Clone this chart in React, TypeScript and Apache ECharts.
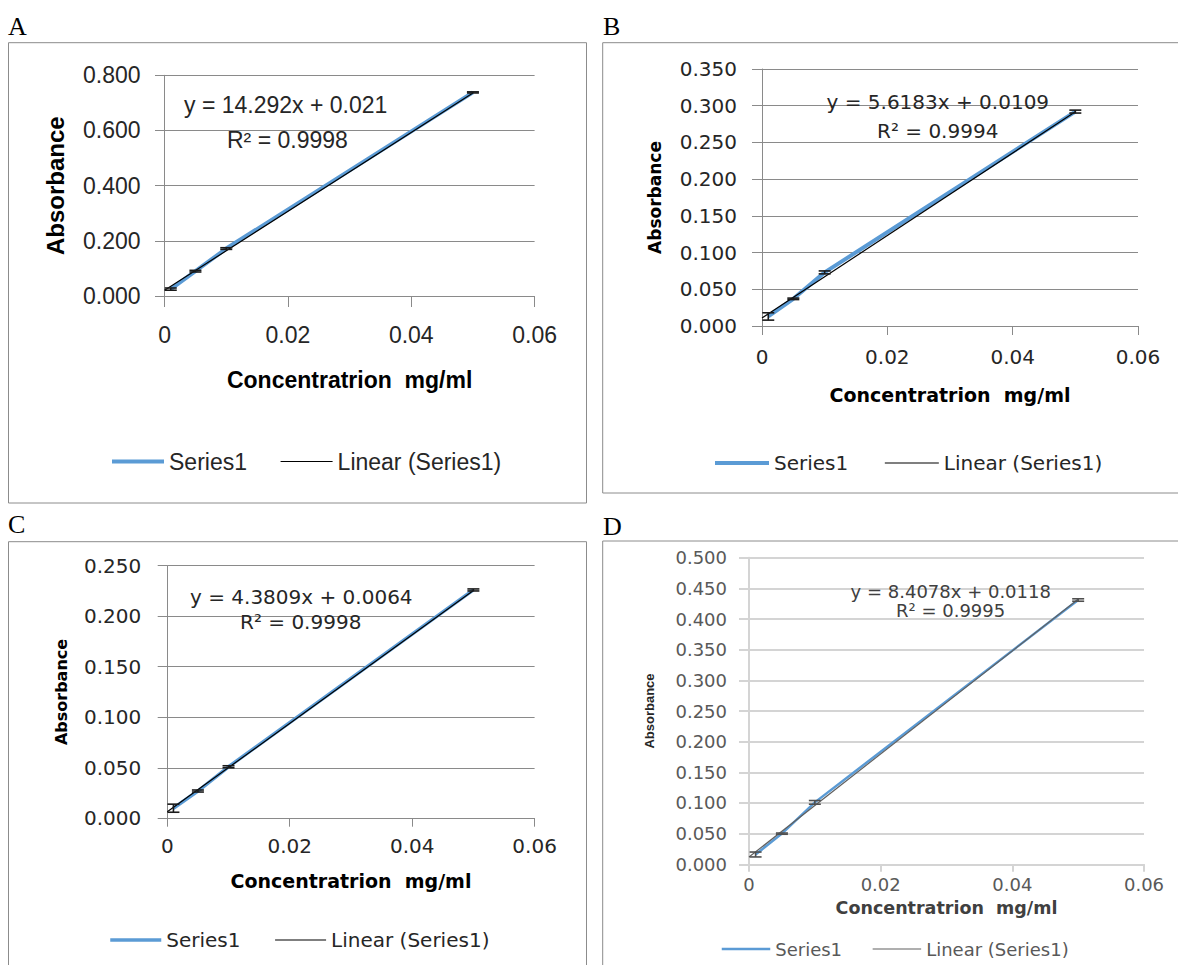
import React, { useEffect, useRef } from "react";
import * as echarts from "echarts";

// ---------- data ----------
const conc = [0.001, 0.005, 0.01, 0.05];

const absA = [0.025, 0.09, 0.172, 0.738];
const errA = [0.004, 0.003, 0.003, 0.002];
const absB = [0.013, 0.037, 0.073, 0.292];
const errB = [0.005, 0.001, 0.002, 0.002];
const absC = [0.01, 0.027, 0.051, 0.226];
const errC = [0.004, 0.001, 0.001, 0.001];
const absD = [0.016, 0.05, 0.101, 0.431];
const errD = [0.004, 0.001, 0.003, 0.002];

const trendX = [0, 0.05];
const trendA = [0.021, 0.736];
const trendB = [0.0109, 0.2918];
const trendC = [0.0064, 0.2254];
const trendD = [0.0118, 0.4322];

const eqA = ["y = 14.292x + 0.021", "R² = 0.9998"];
const eqB = ["y = 5.6183x + 0.0109", "R² = 0.9994"];
const eqC = ["y = 4.3809x + 0.0064", "R² = 0.9998"];
const eqD = ["y = 8.4078x + 0.0118", "R² = 0.9995"];

const yMax = [0.8, 0.35, 0.25, 0.5];
const yInterval = [0.2, 0.05, 0.05, 0.05];
const xMax = 0.06;
const xInterval = 0.02;

const letters = ["A", "B", "C", "D"];
const seriesName = "Series1";
const trendName = "Linear (Series1)";
const xTitle = "Concentratrion  mg/ml";
const yTitle = "Absorbance";

// ---------- layout / style (kept apart from data) ----------
const panels = [
  {
    abs: absA, err: errA, trend: trendA, eq: eqA,
    grid: { left: 164.6, top: 75.3, width: 370, height: 220.7 },
    font: "Liberation Sans", tickSize: 23, titleSize: 23, yTitleSize: 24,
    yLabelMargin: 24, xLabelMargin: 27, yTick: 9.6, xTick: 11,
    xNameGap: 72, yNameGap: 97,
    gridColor: "#8a8a8a", gridWidth: 1, textColor: "#262626",
    blueWidth: 4, trendColor: "#000000",
    eqPos: [[184, 105], [227, 140]], eqSize: 23,
    legend: { left: 110, y: 460, w1: 52, gap: 33, size: 23 },
    frame: [8.5, 42.7, 578, 460.3],
    letter: [8, 26],
  },
  {
    abs: absB, err: errB, trend: trendB, eq: eqB,
    grid: { left: 762, top: 69, width: 376, height: 257 },
    font: "DejaVu Sans", tickSize: 20, titleSize: 19, yTitleSize: 17,
    yLabelMargin: 25, xLabelMargin: 21, yTick: 10, xTick: 9,
    xNameGap: 59, yNameGap: 99,
    gridColor: "#8a8a8a", gridWidth: 1, textColor: "#262626",
    blueWidth: 4, trendColor: "#000000",
    eqPos: [[826.5, 102], [877, 131]], eqSize: 20,
    legend: { left: 713, y: 463, w1: 54, gap: 36, size: 20 },
    frame: [602.7, 42.7, 580, 450.3],
    letter: [603, 26],
  },
  {
    abs: absC, err: errC, trend: trendC, eq: eqC,
    grid: { left: 167.3, top: 565.7, width: 367.3, height: 252.6 },
    font: "DejaVu Sans", tickSize: 20, titleSize: 19, yTitleSize: 16,
    yLabelMargin: 26, xLabelMargin: 18, yTick: 9.6, xTick: 8.4,
    xNameGap: 53, yNameGap: 98,
    gridColor: "#8a8a8a", gridWidth: 1, textColor: "#262626",
    blueWidth: 3.5, trendColor: "#000000",
    eqPos: [[190, 596.7], [240, 622]], eqSize: 20,
    legend: { left: 108.5, y: 940, w1: 51, gap: 34, size: 20 },
    frame: [8.5, 541.7, 578, 440],
    letter: [8, 524],
  },
  {
    abs: absD, err: errD, trend: trendD, eq: eqD,
    grid: { left: 749, top: 557.7, width: 395, height: 306.6 },
    font: "DejaVu Sans", tickSize: 18, titleSize: 17.5, yTitleSize: 13,
    yTitleFont: "Liberation Sans",
    yLabelMargin: 22, xLabelMargin: 11, yTick: 10, xTick: 7.4,
    xNameGap: 35, yNameGap: 93.5,
    gridColor: "#d4d4d4", gridWidth: 2, textColor: "#595959",
    blueWidth: 2.5, trendColor: "#606060",
    eqPos: [[850.6, 591], [896, 610]], eqSize: 18,
    legend: { left: 720.5, y: 950, w1: 48.5, gap: 30, size: 18 },
    frame: [602.7, 541, 580, 440],
    letter: [603, 526],
  },
];

const BLUE = "#5B9BD5";

function buildOption() {
  const grid: any[] = [];
  const xAxis: any[] = [];
  const yAxis: any[] = [];
  const series: any[] = [];
  const legend: any[] = [];
  const graphic: any[] = [];

  panels.forEach((p, i) => {
    grid.push({ ...p.grid, containLabel: false });
    xAxis.push({
      type: "value",
      gridIndex: i,
      min: 0,
      max: xMax,
      interval: xInterval,
      axisLine: { show: true, onZero: false, lineStyle: { color: p.gridColor, width: p.gridWidth } },
      axisTick: { show: true, length: p.xTick, lineStyle: { color: p.gridColor, width: p.gridWidth } },
      splitLine: { show: false },
      axisLabel: {
        margin: p.xLabelMargin,
        fontSize: p.tickSize,
        fontFamily: p.font,
        color: p.textColor,
        formatter: (v: number) => (v === 0 ? "0" : String(parseFloat(v.toFixed(2)))),
      },
      name: xTitle,
      nameLocation: "middle",
      nameGap: p.xNameGap,
      nameTextStyle: {
        fontSize: p.titleSize,
        fontFamily: p.font,
        fontWeight: "bold",
        color: i === 3 ? "#404040" : "#000000",
      },
    });
    yAxis.push({
      type: "value",
      gridIndex: i,
      min: 0,
      max: yMax[i],
      interval: yInterval[i],
      axisLine: { show: true, lineStyle: { color: p.gridColor, width: p.gridWidth } },
      axisTick: { show: true, length: p.yTick, lineStyle: { color: p.gridColor, width: p.gridWidth } },
      splitLine: { show: true, lineStyle: { color: p.gridColor, width: p.gridWidth } },
      axisLabel: {
        margin: p.yLabelMargin,
        fontSize: p.tickSize,
        fontFamily: p.font,
        color: p.textColor,
        formatter: (v: number) => v.toFixed(3),
      },
      name: yTitle,
      nameLocation: "middle",
      nameRotate: 90,
      nameGap: p.yNameGap,
      nameTextStyle: {
        fontSize: p.yTitleSize,
        fontFamily: (p as any).yTitleFont || p.font,
        fontWeight: "bold",
        color: i === 3 ? "#262626" : "#000000",
      },
    });

    series.push({
      name: seriesName,
      type: "line",
      xAxisIndex: i,
      yAxisIndex: i,
      data: conc.map((c, k) => [c, p.abs[k]]),
      symbol: "none",
      lineStyle: { color: BLUE, width: p.blueWidth },
      itemStyle: { color: BLUE },
      z: 3,
    });
    series.push({
      name: trendName,
      type: "line",
      xAxisIndex: i,
      yAxisIndex: i,
      data: trendX.map((c, k) => [c, p.trend[k]]),
      symbol: "none",
      lineStyle: { color: p.trendColor, width: 1.2 },
      itemStyle: { color: p.trendColor },
      z: 4,
    });
    series.push({
      name: "Error " + letters[i],
      type: "custom",
      xAxisIndex: i,
      yAxisIndex: i,
      data: conc.map((c, k) => [c, p.abs[k], p.err[k]]),
      encode: { x: 0, y: 1 },
      z: 5,
      renderItem: (params: any, api: any) => {
        const x = api.value(0);
        const y = api.value(1);
        const e = api.value(2);
        const t = api.coord([x, y + e]);
        const b = api.coord([x, y - e]);
        const hw = 6;
        const st = { stroke: p.trendColor === "#000000" ? "#1a1a1a" : "#505050", lineWidth: 1.6 };
        return {
          type: "group",
          children: [
            { type: "line", shape: { x1: t[0], y1: t[1], x2: b[0], y2: b[1] }, style: st },
            { type: "line", shape: { x1: t[0] - hw, y1: t[1], x2: t[0] + hw, y2: t[1] }, style: st },
            { type: "line", shape: { x1: b[0] - hw, y1: b[1], x2: b[0] + hw, y2: b[1] }, style: st },
          ],
        };
      },
    });

    legend.push({
      show: true,
      left: p.legend.left,
      top: p.legend.y - 10,
      padding: 0,
      orient: "horizontal",
      itemWidth: p.legend.w1,
      itemHeight: 14,
      itemGap: p.legend.gap,
      selectedMode: false,
      textStyle: { fontSize: p.legend.size, fontFamily: p.font, color: p.textColor },
      data: [
        {
          name: seriesName,
          itemStyle: { color: "transparent", borderColor: "transparent", borderWidth: 0 },
          lineStyle: { color: BLUE, width: p.blueWidth },
        },
        {
          name: trendName,
          itemStyle: { color: "transparent", borderColor: "transparent", borderWidth: 0 },
          lineStyle: { color: p.trendColor, width: 1.2 },
        },
      ],
    });

    p.eq.forEach((s, k) => {
      graphic.push({
        type: "text",
        x: p.eqPos[k][0],
        y: p.eqPos[k][1],
        z: 10,
        style: {
          text: s,
          fontSize: p.eqSize,
          fontFamily: p.font,
          fill: i === 3 ? "#404040" : "#262626",
          textAlign: "left",
          textVerticalAlign: "middle",
          align: "left",
          verticalAlign: "middle",
        },
      });
    });

    const [fx, fy, fw, fh] = p.frame;
    graphic.push({
      type: "rect",
      shape: { x: fx, y: fy, width: fw, height: fh },
      style: { fill: "none", stroke: "#8c8c8c", lineWidth: 1 },
      z: 0,
      silent: true,
    });
    graphic.push({
      type: "text",
      x: p.letter[0],
      y: p.letter[1],
      style: {
        text: letters[i],
        fontSize: 26,
        fontFamily: "Liberation Serif",
        fill: "#000000",
        textAlign: "left",
        textVerticalAlign: "middle",
        align: "left",
        verticalAlign: "middle",
      },
    });
  });

  return {
    animation: false,
    backgroundColor: "#ffffff",
    grid,
    xAxis,
    yAxis,
    series,
    legend,
    graphic,
  };
}

export default function App() {
  const ref = useRef<HTMLDivElement>(null);
  useEffect(() => {
    if (!ref.current) return;
    const chart = echarts.init(ref.current, undefined, { renderer: "svg" });
    chart.setOption(buildOption() as any);
    return () => chart.dispose();
  }, []);
  return (
    <div
      ref={ref}
      style={{ position: "absolute", left: 0, top: 0, width: 1178, height: 965 }}
    />
  );
}
